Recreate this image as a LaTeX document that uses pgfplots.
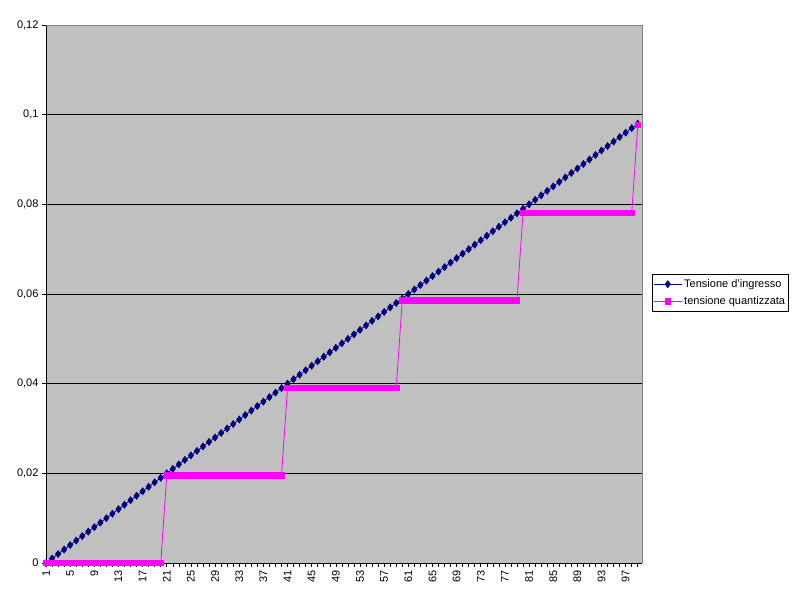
\documentclass[border=0pt]{standalone}
\usepackage{fontspec}
\setmainfont{Liberation Sans}
\usepackage{pgfplots}
\usepackage{pgfplotstable}
\pgfplotsset{compat=1.18}

\definecolor{plotbg}{RGB}{192,192,192}
\definecolor{edgegray}{RGB}{128,128,128}
\definecolor{navyline}{RGB}{0,0,128}
\definecolor{magline}{RGB}{255,0,255}

% n, tensione d'ingresso, tensione quantizzata (LSB = 5/256)
\pgfplotstableread[row sep=\\]{
n vin vq\\
1 0.000 0\\ 2 0.001 0\\ 3 0.002 0\\ 4 0.003 0\\ 5 0.004 0\\
6 0.005 0\\ 7 0.006 0\\ 8 0.007 0\\ 9 0.008 0\\ 10 0.009 0\\
11 0.010 0\\ 12 0.011 0\\ 13 0.012 0\\ 14 0.013 0\\ 15 0.014 0\\
16 0.015 0\\ 17 0.016 0\\ 18 0.017 0\\ 19 0.018 0\\ 20 0.019 0\\
21 0.020 0.0195\\ 22 0.021 0.0195\\ 23 0.022 0.0195\\ 24 0.023 0.0195\\ 25 0.024 0.0195\\
26 0.025 0.0195\\ 27 0.026 0.0195\\ 28 0.027 0.0195\\ 29 0.028 0.0195\\ 30 0.029 0.0195\\
31 0.030 0.0195\\ 32 0.031 0.0195\\ 33 0.032 0.0195\\ 34 0.033 0.0195\\ 35 0.034 0.0195\\
36 0.035 0.0195\\ 37 0.036 0.0195\\ 38 0.037 0.0195\\ 39 0.038 0.0195\\ 40 0.039 0.0195\\
41 0.040 0.0391\\ 42 0.041 0.0391\\ 43 0.042 0.0391\\ 44 0.043 0.0391\\ 45 0.044 0.0391\\
46 0.045 0.0391\\ 47 0.046 0.0391\\ 48 0.047 0.0391\\ 49 0.048 0.0391\\ 50 0.049 0.0391\\
51 0.050 0.0391\\ 52 0.051 0.0391\\ 53 0.052 0.0391\\ 54 0.053 0.0391\\ 55 0.054 0.0391\\
56 0.055 0.0391\\ 57 0.056 0.0391\\ 58 0.057 0.0391\\ 59 0.058 0.0391\\
60 0.059 0.0586\\ 61 0.060 0.0586\\ 62 0.061 0.0586\\ 63 0.062 0.0586\\ 64 0.063 0.0586\\
65 0.064 0.0586\\ 66 0.065 0.0586\\ 67 0.066 0.0586\\ 68 0.067 0.0586\\ 69 0.068 0.0586\\
70 0.069 0.0586\\ 71 0.070 0.0586\\ 72 0.071 0.0586\\ 73 0.072 0.0586\\ 74 0.073 0.0586\\
75 0.074 0.0586\\ 76 0.075 0.0586\\ 77 0.076 0.0586\\ 78 0.077 0.0586\\ 79 0.078 0.0586\\
80 0.079 0.0781\\ 81 0.080 0.0781\\ 82 0.081 0.0781\\ 83 0.082 0.0781\\ 84 0.083 0.0781\\
85 0.084 0.0781\\ 86 0.085 0.0781\\ 87 0.086 0.0781\\ 88 0.087 0.0781\\ 89 0.088 0.0781\\
90 0.089 0.0781\\ 91 0.090 0.0781\\ 92 0.091 0.0781\\ 93 0.092 0.0781\\ 94 0.093 0.0781\\
95 0.094 0.0781\\ 96 0.095 0.0781\\ 97 0.096 0.0781\\ 98 0.097 0.0781\\
99 0.098 0.0977\\
}\datatable

\begin{document}
\begin{tikzpicture}
\useasboundingbox (0,0) rectangle (800pt,600pt);
\begin{axis}[
    at={(46pt,37pt)}, anchor=south west,
    width=596pt, height=538pt, scale only axis,
    xmin=1, xmax=99.7,
    ymin=0, ymax=0.12,
    clip=false,
    axis x line*=bottom, axis y line*=left,
    axis line style={black, line width=0.8pt, -},
    axis background/.style={fill=plotbg},
    tick align=outside,
    major tick length=4pt, minor tick length=4pt,
    tick style={black, line width=0.6pt},
    xtick={1,5,...,97},
    minor xtick={1,...,99},
    ytick={0,0.02,0.04,0.06,0.08,0.1,0.12},
    yticklabels={0,{0,02},{0,04},{0,06},{0,08},{0,1},{0,12}},
    ymajorgrids,
    major grid style={black, line width=0.8pt},
    /pgf/number format/assume math mode=true,
    ticklabel style={font=\fontsize{11}{13}\selectfont},
    xticklabel style={rotate=90, anchor=east},
    legend style={at={(1.0168,0.537)}, anchor=north west,
        draw=black, line width=0.8pt, fill=white, font=\fontsize{11}{13}\selectfont,
        inner xsep=1pt, inner ysep=3pt, row sep=4pt,
        nodes={inner xsep=2pt}},
    legend cell align=left,
    legend image code/.code={
        \draw[mark repeat=2, mark phase=2] plot coordinates {(0pt,0pt) (14pt,0pt) (28pt,0pt)};
    },
]
\draw[edgegray, line width=0.8pt] (rel axis cs:0,1) -- (rel axis cs:1,1) -- (rel axis cs:1,0);
\addplot[navyline, line width=0.8pt, mark=diamond*, mark size=3.4pt,
    mark options={fill=navyline, draw=navyline}] table[x=n, y=vin] {\datatable};
\addlegendentry{Tensione d'ingresso}
\addplot[magline, line width=0.8pt, mark=square*, mark size=2.8pt,
    mark options={fill=magline, draw=magline}] table[x=n, y=vq] {\datatable};
\addlegendentry{tensione quantizzata}
\end{axis}
\end{tikzpicture}
\end{document}
